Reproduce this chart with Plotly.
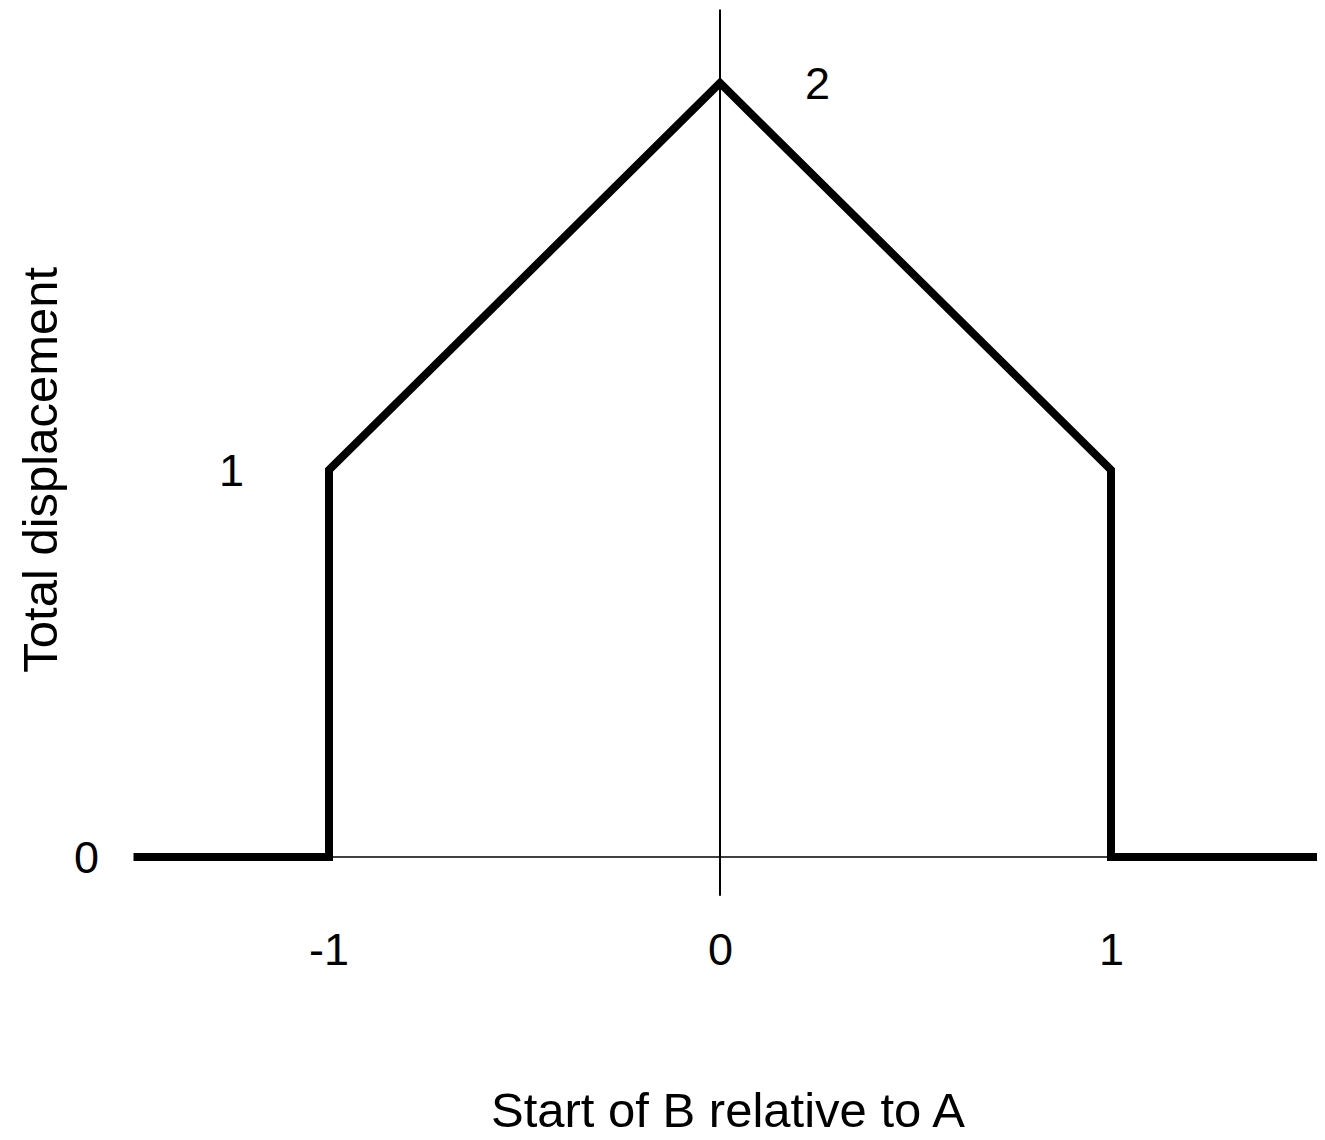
import plotly.graph_objects as go

# Curve data: total displacement vs start of B relative to A
x_vals = [-1.5, -1.0, -1.0, 0.0, 1.0, 1.0, 1.53]
y_vals = [0.0, 0.0, 1.0, 2.0, 1.0, 0.0, 0.0]

# Axis lines
x_axis_x = [-1.0, 1.0]
x_axis_y = [0.0, 0.0]
y_axis_x = [0.0, 0.0]
y_axis_y = [-0.1, 2.19]

# Tick labels
x_ticks = [-1, 0, 1]
x_tick_text = ["-1", "0", "1"]
y_ticks = [0, 1, 2]
y_tick_text = ["0", "1", "2"]
y_tick_x = [-1.62, -1.25, 0.25]

FONT = "Liberation Sans, Arial, Helvetica, sans-serif"

X0, Y0, SX, SY = 712, 849, 391, 387

fig = go.Figure()
fig.add_trace(go.Scatter(x=x_axis_x, y=x_axis_y, mode="lines",
                         line=dict(color="black", width=1.5), hoverinfo="skip"))
fig.add_trace(go.Scatter(x=y_axis_x, y=y_axis_y, mode="lines",
                         line=dict(color="black", width=2), hoverinfo="skip"))
fig.add_trace(go.Scatter(x=x_vals, y=y_vals, mode="lines",
                         line=dict(color="black", width=8), hoverinfo="skip"))

ann = []
for xv, t in zip(x_ticks, x_tick_text):
    ann.append(dict(x=xv, y=-0.24, text=t, showarrow=False, xref="x", yref="y",
                    font=dict(size=45, color="black", family=FONT)))
for xv, yv, t in zip(y_tick_x, y_ticks, y_tick_text):
    ann.append(dict(x=xv, y=yv, text=t, showarrow=False, xref="x", yref="y",
                    font=dict(size=45, color="black", family=FONT)))
ann.append(dict(x=0.02, y=-0.655, text="Start of B relative to A", showarrow=False,
                xref="x", yref="y", font=dict(size=49, color="black", family=FONT)))
ann.append(dict(x=-1.74, y=1.0, text="Total displacement", showarrow=False, textangle=-90,
                xref="x", yref="y", font=dict(size=49, color="black", family=FONT)))

fig.update_layout(
    width=1325, height=1140,
    margin=dict(l=0, r=0, t=0, b=0),
    paper_bgcolor="white", plot_bgcolor="white",
    showlegend=False,
    xaxis=dict(range=[(0 - X0) / SX, (1325 - X0) / SX], visible=False, fixedrange=True),
    yaxis=dict(range=[(Y0 - 1140) / SY, Y0 / SY], visible=False, fixedrange=True),
    annotations=ann,
)

fig.write_html("out.html")
